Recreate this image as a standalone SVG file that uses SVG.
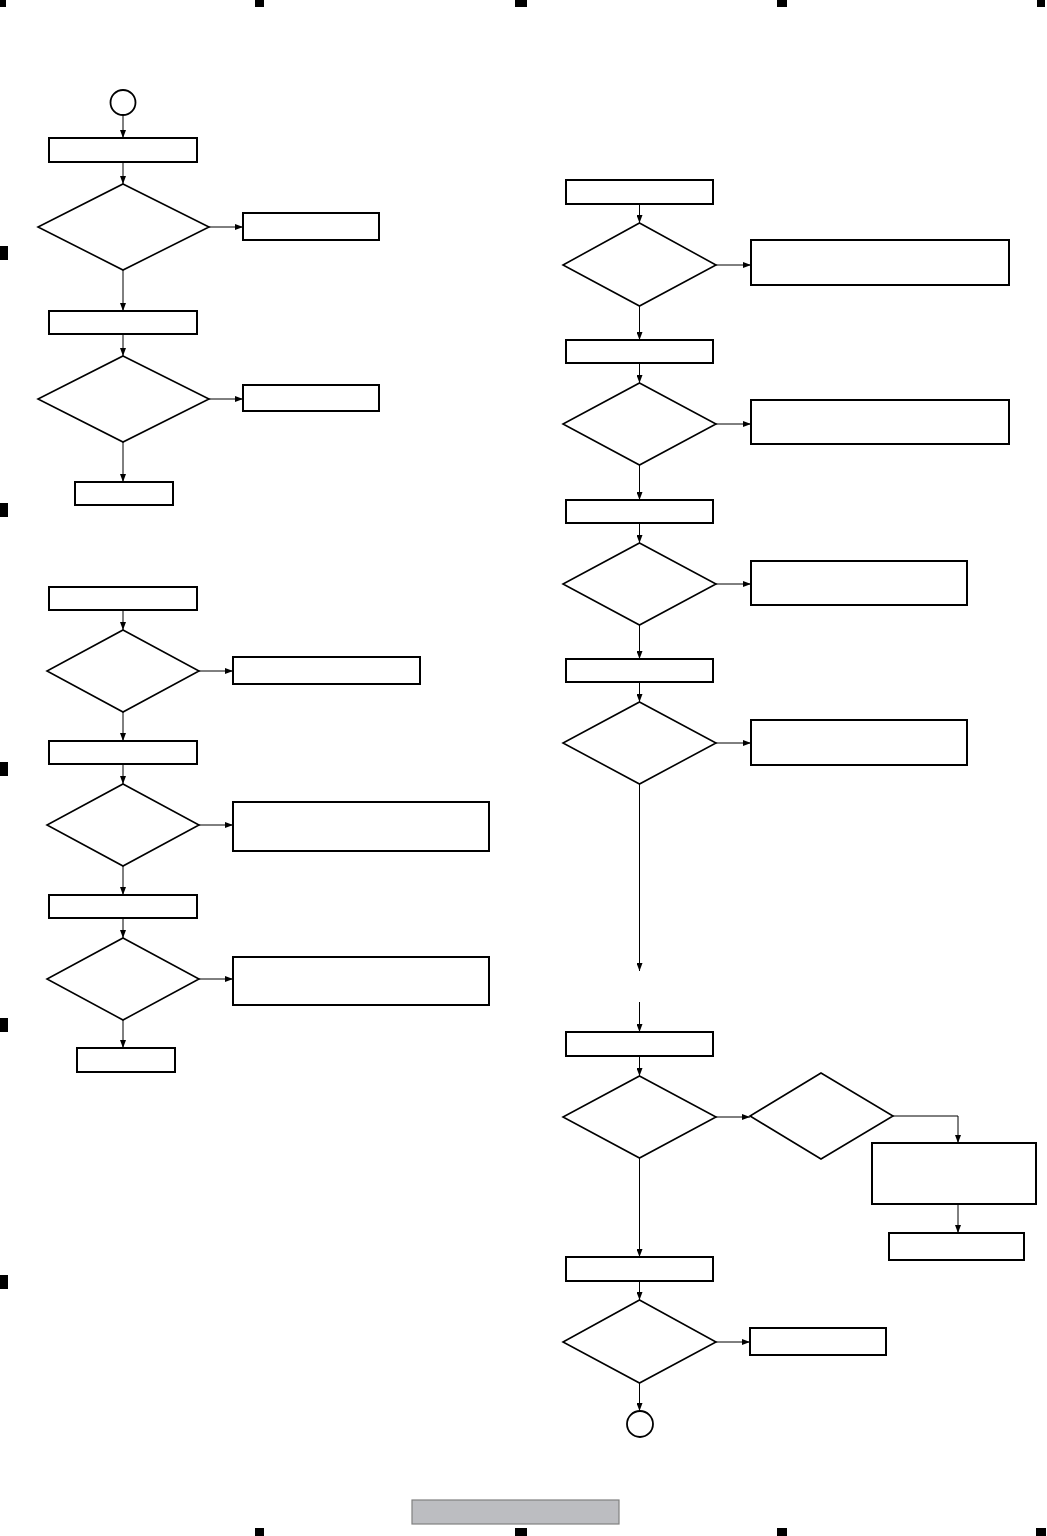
<svg xmlns="http://www.w3.org/2000/svg" width="1047" height="1536" viewBox="0 0 1047 1536">
<style>
.box{fill:#fff;stroke:#000;stroke-width:2}
.dia{fill:#fff;stroke:#000;stroke-width:1.6}
.term{fill:#fff;stroke:#000;stroke-width:1.8}
.con{fill:none;stroke:#000;stroke-width:1}
.mark{fill:#000}
</style>
<defs>
<marker id="ah" markerUnits="userSpaceOnUse" markerWidth="8" markerHeight="6" refX="8" refY="3" orient="auto">
<path d="M0,0 L8,3 L0,6 z" fill="#000"/>
</marker>
</defs>
<rect width="1047" height="1536" fill="#fff"/>
<g id="page-marks">
<rect class="mark" x="0" y="0" width="6" height="7"/>
<rect class="mark" x="255" y="0" width="9" height="7"/>
<rect class="mark" x="515" y="0" width="12" height="7"/>
<rect class="mark" x="777" y="0" width="10" height="7"/>
<rect class="mark" x="1037" y="0" width="8" height="7"/>
<rect class="mark" x="0" y="246" width="8" height="14"/>
<rect class="mark" x="0" y="503" width="8" height="14"/>
<rect class="mark" x="0" y="762" width="8" height="14"/>
<rect class="mark" x="0" y="1018" width="8" height="14"/>
<rect class="mark" x="0" y="1275" width="8" height="14"/>
<rect class="mark" x="255" y="1528" width="9" height="8"/>
<rect class="mark" x="515" y="1528" width="12" height="8"/>
<rect class="mark" x="777" y="1528" width="10" height="8"/>
<rect class="mark" x="1036" y="1528" width="10" height="8"/>
<rect x="412" y="1500" width="207" height="24" fill="#bcbdc1" stroke="#808080" stroke-width="1.2"/>
</g>
<g id="connectors">
<line class="con" x1="123" y1="115" x2="123" y2="138" marker-end="url(#ah)"/>
<line class="con" x1="123" y1="162" x2="123" y2="184" marker-end="url(#ah)"/>
<line class="con" x1="209" y1="227" x2="243" y2="227" marker-end="url(#ah)"/>
<line class="con" x1="123" y1="270" x2="123" y2="311" marker-end="url(#ah)"/>
<line class="con" x1="123" y1="334" x2="123" y2="356" marker-end="url(#ah)"/>
<line class="con" x1="209" y1="399" x2="243" y2="399" marker-end="url(#ah)"/>
<line class="con" x1="123" y1="442" x2="123" y2="482" marker-end="url(#ah)"/>
<line class="con" x1="123" y1="610" x2="123" y2="630" marker-end="url(#ah)"/>
<line class="con" x1="199" y1="671" x2="233" y2="671" marker-end="url(#ah)"/>
<line class="con" x1="123" y1="712" x2="123" y2="741" marker-end="url(#ah)"/>
<line class="con" x1="123" y1="764" x2="123" y2="784" marker-end="url(#ah)"/>
<line class="con" x1="199" y1="825" x2="233" y2="825" marker-end="url(#ah)"/>
<line class="con" x1="123" y1="866" x2="123" y2="895" marker-end="url(#ah)"/>
<line class="con" x1="123" y1="918" x2="123" y2="938" marker-end="url(#ah)"/>
<line class="con" x1="199" y1="979" x2="233" y2="979" marker-end="url(#ah)"/>
<line class="con" x1="123" y1="1020" x2="123" y2="1048" marker-end="url(#ah)"/>
<line class="con" x1="639.5" y1="204" x2="639.5" y2="223" marker-end="url(#ah)"/>
<line class="con" x1="716" y1="265" x2="751" y2="265" marker-end="url(#ah)"/>
<line class="con" x1="639.5" y1="306" x2="639.5" y2="340" marker-end="url(#ah)"/>
<line class="con" x1="639.5" y1="363" x2="639.5" y2="383" marker-end="url(#ah)"/>
<line class="con" x1="716" y1="424" x2="751" y2="424" marker-end="url(#ah)"/>
<line class="con" x1="639.5" y1="465" x2="639.5" y2="500" marker-end="url(#ah)"/>
<line class="con" x1="639.5" y1="523" x2="639.5" y2="543" marker-end="url(#ah)"/>
<line class="con" x1="716" y1="584" x2="751" y2="584" marker-end="url(#ah)"/>
<line class="con" x1="639.5" y1="625" x2="639.5" y2="659" marker-end="url(#ah)"/>
<line class="con" x1="639.5" y1="682" x2="639.5" y2="702" marker-end="url(#ah)"/>
<line class="con" x1="716" y1="743" x2="751" y2="743" marker-end="url(#ah)"/>
<line class="con" x1="639.5" y1="784" x2="639.5" y2="971" marker-end="url(#ah)"/>
<line class="con" x1="639.5" y1="1002" x2="639.5" y2="1032" marker-end="url(#ah)"/>
<line class="con" x1="639.5" y1="1056" x2="639.5" y2="1076" marker-end="url(#ah)"/>
<line class="con" x1="716" y1="1117" x2="750" y2="1117" marker-end="url(#ah)"/>
<polyline class="con" points="893,1116 958,1116 958,1143" marker-end="url(#ah)"/>
<line class="con" x1="958" y1="1205" x2="958" y2="1233" marker-end="url(#ah)"/>
<line class="con" x1="639.5" y1="1158" x2="639.5" y2="1257" marker-end="url(#ah)"/>
<line class="con" x1="639.5" y1="1281" x2="639.5" y2="1300" marker-end="url(#ah)"/>
<line class="con" x1="716" y1="1342" x2="750" y2="1342" marker-end="url(#ah)"/>
<line class="con" x1="639.5" y1="1383" x2="639.5" y2="1411" marker-end="url(#ah)"/>
</g>
<g id="L-start"><circle class="term" cx="123" cy="102.5" r="12.5"/></g>
<g id="L-box1"><rect class="box" x="49" y="138" width="148" height="24"/></g>
<g id="L-dia1"><polygon class="dia" points="123,184 209,227 123,270 38,227"/></g>
<g id="L-res1"><rect class="box" x="243" y="213" width="136" height="27"/></g>
<g id="L-box2"><rect class="box" x="49" y="311" width="148" height="23"/></g>
<g id="L-dia2"><polygon class="dia" points="123,356 209,399 123,442 38,399"/></g>
<g id="L-res2"><rect class="box" x="243" y="385" width="136" height="26"/></g>
<g id="L-end1"><rect class="box" x="75" y="482" width="98" height="23"/></g>
<g id="L-box3"><rect class="box" x="49" y="587" width="148" height="23"/></g>
<g id="L-dia3"><polygon class="dia" points="123,630 199,671 123,712 47,671"/></g>
<g id="L-res3"><rect class="box" x="233" y="657" width="187" height="27"/></g>
<g id="L-box4"><rect class="box" x="49" y="741" width="148" height="23"/></g>
<g id="L-dia4"><polygon class="dia" points="123,784 199,825 123,866 47,825"/></g>
<g id="L-res4"><rect class="box" x="233" y="802" width="256" height="49"/></g>
<g id="L-box5"><rect class="box" x="49" y="895" width="148" height="23"/></g>
<g id="L-dia5"><polygon class="dia" points="123,938 199,979 123,1020 47,979"/></g>
<g id="L-res5"><rect class="box" x="233" y="957" width="256" height="48"/></g>
<g id="L-end2"><rect class="box" x="77" y="1048" width="98" height="24"/></g>
<g id="R-box1"><rect class="box" x="566" y="180" width="147" height="24"/></g>
<g id="R-dia1"><polygon class="dia" points="639.5,223 716,265 639.5,306 563,265"/></g>
<g id="R-res1"><rect class="box" x="751" y="240" width="258" height="45"/></g>
<g id="R-box2"><rect class="box" x="566" y="340" width="147" height="23"/></g>
<g id="R-dia2"><polygon class="dia" points="639.5,383 716,424 639.5,465 563,424"/></g>
<g id="R-res2"><rect class="box" x="751" y="400" width="258" height="44"/></g>
<g id="R-box3"><rect class="box" x="566" y="500" width="147" height="23"/></g>
<g id="R-dia3"><polygon class="dia" points="639.5,543 716,584 639.5,625 563,584"/></g>
<g id="R-res3"><rect class="box" x="751" y="561" width="216" height="44"/></g>
<g id="R-box4"><rect class="box" x="566" y="659" width="147" height="23"/></g>
<g id="R-dia4"><polygon class="dia" points="639.5,702 716,743 639.5,784 563,743"/></g>
<g id="R-res4"><rect class="box" x="751" y="720" width="216" height="45"/></g>
<g id="R-box5"><rect class="box" x="566" y="1032" width="147" height="24"/></g>
<g id="R-dia5"><polygon class="dia" points="639.5,1076 716,1117 639.5,1158 563,1117"/></g>
<g id="R-dia6"><polygon class="dia" points="821,1073 893,1116 821,1159 750,1116"/></g>
<g id="R-res5"><rect class="box" x="872" y="1143" width="164" height="61"/></g>
<g id="R-res6"><rect class="box" x="889" y="1233" width="135" height="27"/></g>
<g id="R-box6"><rect class="box" x="566" y="1257" width="147" height="24"/></g>
<g id="R-dia7"><polygon class="dia" points="639.5,1300 716,1342 639.5,1383 563,1342"/></g>
<g id="R-res7"><rect class="box" x="750" y="1328" width="136" height="27"/></g>
<g id="R-end"><circle class="term" cx="640" cy="1424" r="13"/></g>
</svg>
